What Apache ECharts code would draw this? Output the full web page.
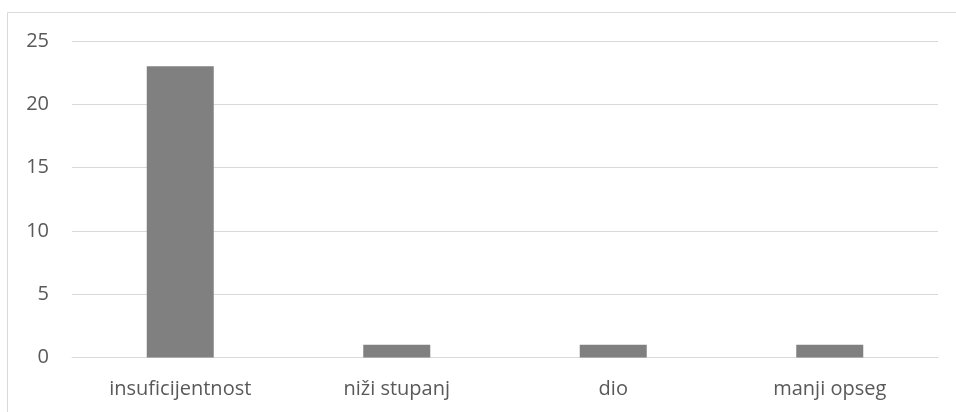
<!DOCTYPE html>
<html>
<head>
<meta charset="utf-8">
<script src="https://cdn.jsdelivr.net/npm/echarts@6/dist/echarts.min.js"></script>
<style>
  html, body { margin: 0; padding: 0; background: #fff; }
  #chart { width: 956px; height: 412px; }
</style>
</head>
<body>
<div id="chart"></div>
<script>
// data
const categories = ['insuficijentnost', 'niži stupanj', 'dio', 'manji opseg'];
const values = [23, 1, 1, 1];

const myChart = echarts.init(document.getElementById('chart'));
const option = {
  animation: false,
  backgroundColor: '#fff',
  // chart frame (right and bottom edges fall outside the picture)
  graphic: [{
    type: 'rect',
    shape: { x: 7.5, y: 12.5, width: 980, height: 430 },
    style: { fill: 'none', stroke: '#d9d9d9', lineWidth: 1 },
    silent: true
  }],
  grid: { left: 72, right: 18, top: 41, bottom: 54.5 },
  xAxis: {
    type: 'category',
    data: categories,
    axisLine: { show: true, lineStyle: { color: '#d9d9d9' } },
    axisTick: { show: false },
    axisLabel: { color: '#595959', fontSize: 20, fontFamily: 'Open Sans', margin: 22 }
  },
  yAxis: {
    type: 'value',
    min: 0, max: 25, interval: 5,
    axisLine: { show: false },
    axisTick: { show: false },
    splitLine: { lineStyle: { color: '#d9d9d9' } },
    axisLabel: { color: '#595959', fontSize: 20, fontFamily: 'Open Sans', margin: 23, align: 'right' }
  },
  series: [{
    type: 'bar',
    data: values,
    barWidth: 67,
    itemStyle: { color: '#808080' }
  }]
};
myChart.setOption(option);
</script>
</body>
</html>
